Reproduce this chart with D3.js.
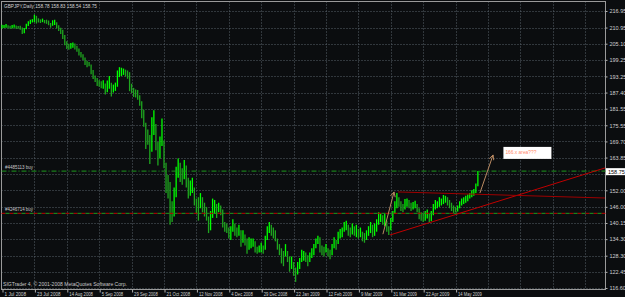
<!DOCTYPE html>
<html><head><meta charset="utf-8">
<script src="https://cdn.jsdelivr.net/npm/d3@7"></script>
<style>html,body{margin:0;padding:0;background:#0b0d0f;overflow:hidden}svg{display:block}</style>
</head><body>
<svg id="c" width="625" height="297"></svg>
<script>
const chartTitle = "GBPJPY,Daily  158.78 158.83 158.54 158.75";
const copyrightText = "SIGTrader 4, \u00a9 2001-2008 MetaQuotes Software Corp.";

const barHigh = [
212.0,211.9,212.2,211.8,211.6,211.9,212.1,211.7,211.5,211.6,
211.0,210.8,212.3,213.2,213.8,214.0,215.6,215.2,214.3,213.9,
214.2,213.7,213.8,213.5,212.6,213.6,213.8,212.9,211.8,210.9,
210.2,208.3,206.0,205.1,205.4,205.5,205.2,204.4,203.4,202.1,
201.3,200.1,198.9,198.5,197.6,195.6,193.6,192.7,191.9,191.5,
191.9,190.7,191.8,193.4,191.0,190.3,191.0,195.4,196.6,196.4,
196.1,195.7,195.4,194.8,190.6,189.1,188.5,188.3,186.4,184.3,
181.2,
176.5,174.0,172.0,178.5,181.0,176.0,169.5,171.5,178.0,170.0,
162.0,157.5,155.0,148.0,153.0,160.5,163.5,162.0,160.0,163.0,
161.0,156.5,155.5,156.5,153.0,149.0,149.5,151.0,149.5,147.5,
146.0,142.5,144.5,149.0,148.5,147.0,147.5,146.5,145.0,140.5,
140.0,138.5,139.0,141.5,140.0,138.5,139.5,137.5,137.5,136.0,
134.5,135.0,134.5,134.5,133.5,131.5,
132.0,133.0,132.0,135.5,139.0,140.5,139.5,138.5,137.5,134.5,
132.5,131.0,130.0,132.5,130.0,128.0,128.0,126.0,124.0,126.0,
127.5,130.5,130.0,129.5,128.5,129.5,131.0,132.5,134.5,135.5,
135.0,132.0,131.5,132.5,131.0,130.5,132.5,135.0,134.0,137.0,
138.0,138.5,140.5,141.0,139.5,138.5,140.0,139.0,139.5,138.0,
138.5,137.0,136.5,137.5,139.0,140.5,139.5,140.0,141.5,144.0,
143.5,143.0,143.5,141.0,139.0,142.0,144.5,148.0,151.0,149.5,
148.0,147.0,148.8,149.0,148.5,147.5,147.8,148.2,147.0,145.5,
144.0,143.5,144.5,145.0,143.5,144.5,147.0,148.5,148.0,149.5,
149.0,150.3,150.0,149.5,148.5,147.5,146.5,146.0,146.5,148.0,
149.0,149.5,150.0,150.5,151.0,152.0,152.5,154.5,159.0,158.83
];
const barLow = [
210.6,210.8,210.9,210.7,210.5,210.6,210.9,210.4,210.5,210.2,
208.6,208.9,210.3,211.5,212.2,212.8,212.9,212.4,212.8,212.6,
212.9,212.5,212.3,211.8,210.9,211.6,211.9,210.6,209.7,208.6,
206.8,204.5,203.2,202.9,203.3,203.6,203.0,202.2,200.8,200.1,
199.2,197.4,196.6,196.9,194.0,192.3,191.2,189.8,189.5,189.0,
188.8,186.7,187.5,188.8,186.0,187.4,188.0,189.5,193.0,193.4,
193.8,193.2,192.4,187.9,187.2,185.8,185.6,184.8,182.6,178.1,
175.0,
167.0,168.5,161.5,166.0,172.0,166.5,161.0,163.5,168.0,160.0,
151.0,149.0,139.5,140.5,142.5,149.5,156.5,155.0,154.0,156.0,
153.0,149.0,150.0,151.0,146.5,143.5,141.0,145.5,144.0,142.5,
141.0,136.5,137.5,142.0,143.5,142.0,144.0,143.0,138.5,137.0,
136.5,134.5,134.0,137.0,135.5,135.0,135.5,131.5,133.0,132.0,
129.0,130.5,131.0,131.5,129.5,129.0,
129.5,129.5,129.0,130.5,134.0,136.5,135.5,134.5,133.5,130.5,
128.5,125.5,124.5,128.0,126.0,122.5,123.5,121.0,118.8,121.5,
123.5,126.0,126.5,126.0,124.5,126.0,127.5,128.5,131.0,132.5,
129.5,128.5,128.0,129.5,128.0,127.0,128.5,131.0,130.5,132.5,
134.5,135.0,137.0,137.5,135.5,135.0,136.0,135.5,135.0,134.5,
135.0,133.5,133.0,134.0,135.5,136.5,135.0,135.5,137.0,139.5,
140.5,139.5,139.0,137.0,135.8,137.5,140.5,143.5,145.5,146.0,
144.5,144.0,145.0,146.0,145.5,144.5,145.0,145.5,144.0,141.5,
141.0,140.5,141.0,141.8,140.3,140.8,143.0,145.0,145.5,146.0,
146.5,147.0,147.5,146.5,145.5,144.5,143.8,144.0,144.3,145.5,
146.5,147.0,147.5,148.0,149.0,149.5,150.0,151.0,153.5,158.54
];

const dateLabels = ["1 Jul 2008","23 Jul 2008","14 Aug 2008","5 Sep 2008","29 Sep 2008","21 Oct 2008",
  "12 Nov 2008","4 Dec 2008","29 Dec 2008","22 Jan 2009","12 Feb 2009","9 Mar 2009","31 Mar 2009",
  "22 Apr 2009","14 May 2009"];
const priceTicks = [216.95,210.95,205.10,199.25,193.25,187.40,181.55,175.55,169.70,163.85,157.85,
  152.00,146.00,140.15,134.30,128.30,122.45,116.60];
const currentPrice = 158.75;

const orderLabels = ["#4485113 buy","#4246714 buy"];
const orderPrices = [158.95, 143.65];

// trend lines: [barStart, priceStart, barEnd, priceEnd]
const supportLine = [191.6, 135.8, 297.8, 160.1];
const resistLine = [195.6, 151.4, 297.8, 149.2];
// arrows
const arrow1 = [188.1, 136.1, 193.6, 151.4];
const arrow2 = [236.0, 151.0, 242.5, 164.8];
const noteText = "166.x area???";
const notePos = [248.6, 165.0];

const svg = d3.select("#c");
const W = 625, H = 297;
const plotL = 1.5, plotT = 1.5, plotR = 605.5, plotB = 289.5;
const x = d3.scaleLinear().domain([0, 224]).range([2, 455.6]);
const y = d3.scaleLinear().domain([116.60, 216.95]).range([288, 11]);
const fontFam = "'Liberation Sans', Arial, sans-serif";
const charW = 2.15;

svg.append("rect").attr("width", W).attr("height", H).attr("fill", "#0b0d0f");

const gridColor = "#59626b";
svg.append("g").selectAll("line").data(priceTicks).join("line")
  .attr("x1", plotL).attr("x2", plotR)
  .attr("y1", d => Math.round(y(d)) + 0.5).attr("y2", d => Math.round(y(d)) + 0.5)
  .attr("stroke", gridColor).attr("stroke-width", 1).attr("stroke-dasharray", "1,2");
const gridBars = d3.range(16, 300, 16).filter(b => x(b) < plotR - 2);
svg.append("g").selectAll("line").data(gridBars).join("line")
  .attr("x1", d => Math.round(x(d)) + 0.5).attr("x2", d => Math.round(x(d)) + 0.5)
  .attr("y1", plotT).attr("y2", plotB)
  .attr("stroke", gridColor).attr("stroke-width", 1).attr("stroke-dasharray", "1,2");

svg.append("rect").attr("x", plotL).attr("y", plotT).attr("width", plotR - plotL).attr("height", plotB - plotT)
  .attr("fill", "none").attr("stroke", "#9a9a9a").attr("stroke-width", 1);

// bars
const bars = barHigh.map((h, i) => ({i, h, l: barLow[i]}));
svg.append("g").selectAll("line").data(bars).join("line")
  .attr("x1", d => x(d.i)).attr("x2", d => x(d.i))
  .attr("y1", d => y(d.h)).attr("y2", d => y(d.l))
  .attr("stroke", (d, k) => {
    if (k === 0) return "#00ff00";
    const m = (d.h + d.l) / 2, pm = (bars[k-1].h + bars[k-1].l) / 2;
    return m >= pm ? "#00ff00" : "#1fa61f";
  })
  .attr("stroke-width", 1.3);

// order lines
svg.append("line").attr("x1", plotL).attr("x2", plotR)
  .attr("y1", y(orderPrices[1])).attr("y2", y(orderPrices[1]))
  .attr("stroke", "#c00000").attr("stroke-dasharray", "4,4").attr("stroke-width", 1);
orderPrices.forEach((p, k) => {
  svg.append("line").attr("x1", plotL).attr("x2", plotR)
    .attr("y1", y(p)).attr("y2", y(p))
    .attr("stroke", "#1e9a1e").attr("stroke-width", 1)
    .attr("stroke-dasharray", k === 0 ? "5,2,1,2" : "4,4").attr("stroke-dashoffset", k === 0 ? 0 : 4);
  svg.append("text").attr("x", 5).attr("y", y(p) - 2)
    .attr("fill", "#c8c8c8").attr("font-size", 5.5).attr("font-family", fontFam)
    .attr("textLength", 28).attr("lengthAdjust", "spacingAndGlyphs").text(orderLabels[k]);
});

// trend lines
[supportLine, resistLine].forEach((t, k) => {
  svg.append("line").attr("x1", x(t[0])).attr("y1", y(t[1])).attr("x2", x(t[2])).attr("y2", y(t[3]))
    .attr("stroke", k === 0 ? "#c00000" : "#9e0000").attr("stroke-width", 1);
});

// arrows
const arrowColor = "#b98a62";
svg.append("defs").append("marker").attr("id", "ah").attr("viewBox", "0 0 10 10")
  .attr("refX", 9).attr("refY", 5).attr("markerWidth", 6).attr("markerHeight", 6)
  .attr("markerUnits", "userSpaceOnUse").attr("orient", "auto")
  .append("path").attr("d", "M1,1 L9,5 L1,9").attr("fill", "none").attr("stroke", arrowColor).attr("stroke-width", 1.5);
[arrow1, arrow2].forEach(a => {
  svg.append("line").attr("x1", x(a[0])).attr("y1", y(a[1])).attr("x2", x(a[2])).attr("y2", y(a[3]))
    .attr("stroke", arrowColor).attr("stroke-width", 1).attr("marker-end", "url(#ah)");
});

// note box
const noteG = svg.append("g");
const noteBox = noteG.append("rect").attr("fill", "#ffffff");
const noteT = noteG.append("text").attr("x", x(notePos[0])).attr("y", y(notePos[1]))
  .attr("fill", "#ff8a6a").attr("font-size", 5.5).attr("font-family", fontFam)
  .attr("textLength", 31).attr("lengthAdjust", "spacingAndGlyphs").text(noteText);
const nx = x(notePos[0]), ny = y(notePos[1]);
noteBox.attr("x", nx - 2).attr("y", ny - 7.5).attr("width", 48).attr("height", 12);

// price axis
const yAxis = d3.axisRight(y).tickValues(priceTicks)
  .tickFormat(d => Math.abs(d - currentPrice) < 2 ? "" : d3.format(".2f")(d)).tickSize(2).tickPadding(2);
const ya = svg.append("g").attr("transform", `translate(${plotR},0)`).call(yAxis);
ya.select(".domain").remove();
ya.selectAll("line").attr("stroke", "#b0b0b0");
ya.selectAll("text").attr("fill", "#d0d0d0").attr("font-size", 5.5).attr("font-family", fontFam);

// current price label
const cy = y(currentPrice);
svg.append("rect").attr("x", 606).attr("y", cy - 3.5).attr("width", 19).attr("height", 7).attr("fill", "#ffffff");
svg.append("text").attr("x", 608).attr("y", cy + 2).attr("fill", "#000").attr("font-size", 5.5)
  .attr("font-family", fontFam).text(d3.format(".2f")(currentPrice));

// date axis
const dateBars = dateLabels.map((_, k) => k * 16);
const xa = svg.append("g").attr("transform", `translate(0,${plotB})`)
  .call(d3.axisBottom(x).tickValues(dateBars).tickFormat((d, k) => dateLabels[k]).tickSize(3).tickPadding(1));
xa.select(".domain").remove();
xa.selectAll("line").attr("stroke", "#b0b0b0").attr("transform", "translate(0.5,0)");
xa.selectAll("text").attr("fill", "#d0d0d0").attr("font-size", 5.5).attr("font-family", fontFam)
  .attr("text-anchor", "start").attr("dx", 2).attr("dy", "0.5em")
  .attr("textLength", (d, k) => dateLabels[k].length * charW).attr("lengthAdjust", "spacingAndGlyphs");

// title and copyright
svg.append("text").attr("x", 4).attr("y", 8).attr("fill", "#d0d0d0").attr("font-size", 5.5)
  .attr("font-family", fontFam).attr("textLength", 93).attr("lengthAdjust", "spacingAndGlyphs").text(chartTitle);
svg.append("text").attr("x", 3).attr("y", 286).attr("fill", "#c8c8c8").attr("font-size", 5.5)
  .attr("font-family", fontFam).attr("textLength", 124).attr("lengthAdjust", "spacingAndGlyphs").text(copyrightText);
</script>
</body></html>
